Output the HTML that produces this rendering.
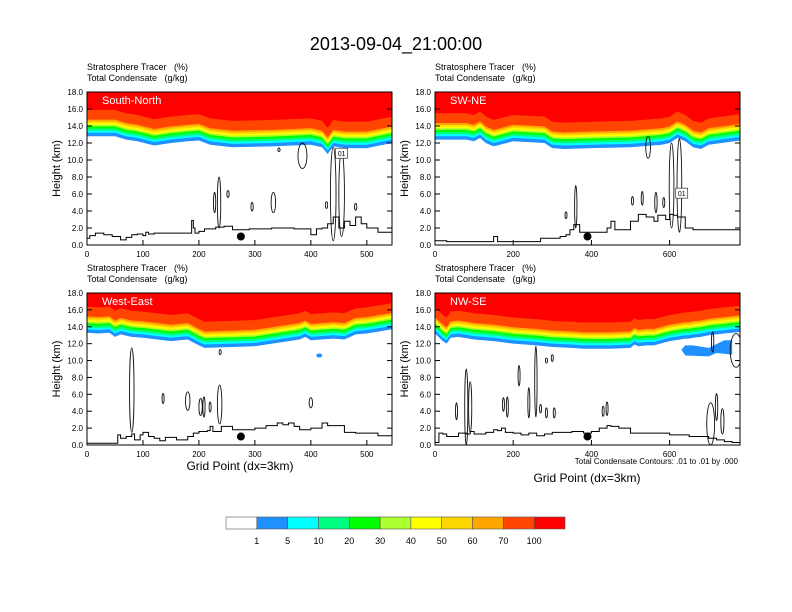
<!DOCTYPE html>
<html><head><meta charset="utf-8">
<style>
html,body{margin:0;padding:0;background:#fff;}
svg{display:block;font-family:"Liberation Sans",sans-serif;}
text{white-space:pre;}
</style></head>
<body>
<svg id="fig" width="792" height="612" viewBox="0 0 792 612">
<text x="396" y="50" font-size="18" text-anchor="middle">2013-09-04_21:00:00</text>
<g id="panels"></g>
<g id="cbar"></g>
</svg>
<script>
const colorLevels = ["1","5","10","20","30","40","50","60","70","100"];
const bandColors = ["#1e90ff","#00ffff","#00ff80","#00ff00","#adff2f","#ffff00","#ffd700","#ffa500","#ff4500","#ff0000"];
const bandOffsets = [0,0.4,0.65,0.9,1.15,1.35,1.55,1.75,1.95,3.1];

const p1Xmax = 545;
const p1BaseX = [0,50,70,90,120,150,180,200,220,260,330,400,420,430,440,460,500,530,545];
const p1Base = [12.8,12.8,12.4,12.2,11.7,12.0,12.2,12.3,11.8,11.5,11.6,11.8,11.5,10.7,11.6,11.4,11.4,11.8,12.0];
const p1TerX = [0,5,15,30,45,60,70,80,90,100,105,110,120,140,180,187,190,193,200,210,230,245,260,290,330,350,370,400,410,420,430,440,450,460,470,480,490,500,520,545];
const p1Ter = [0.8,1.1,1.4,1.2,1.0,0.6,0.9,1.2,1.3,1.1,1.5,1.3,1.4,1.4,1.4,2.9,2.0,1.4,1.6,1.9,2.1,2.2,1.8,1.9,2.0,2.0,1.9,1.2,1.9,2.0,2.5,3.3,2.0,2.8,2.3,3.3,2.5,2.0,1.5,1.9];
const p1Cont = [[228,5,2,1.2],[236,5,3,3],[252,6,2,0.4],[295,4.5,2,0.5],[333,5,4,1.2],[343,11.2,2,0.2],[385,10.5,8,1.5],[440,6,5,5.5],[455,6,5,5],[480,4.5,2,0.4],[428,4.7,2,0.4]];
const p1Dot = 275;

const p2Xmax = 780;
const p2BaseX = [0,80,100,115,130,150,200,280,300,330,400,500,580,600,620,640,660,680,700,780];
const p2Base = [12.4,12.4,12.2,12.6,12.0,11.6,12.2,12.0,11.4,11.3,11.4,11.5,11.8,12.0,12.6,12.2,11.5,11.3,11.8,12.3];
const p2TerX = [0,30,140,150,160,250,270,300,320,335,345,355,370,400,440,450,460,500,520,540,560,570,580,590,600,610,620,640,660,700,780];
const p2Ter = [0.5,0.4,0.4,1.0,0.4,0.4,0.8,0.8,1.0,1.2,1.8,2.4,1.5,1.5,2.0,2.8,1.8,2.8,3.6,3.3,2.8,3.5,3.5,3.0,3.6,3.5,3.3,2.0,1.8,1.8,1.2];
const p2Cont = [[360,4.5,3,2.5],[335,3.5,1,0.4],[505,5.2,2,0.5],[530,5.5,2,0.8],[565,5,3,1.2],[585,5,2,0.6],[605,7,6,5],[625,7,6,5.5],[545,11.5,6,1.3]];
const p2Dot = 390;

const p3Xmax = 545;
const p3BaseX = [0,20,40,50,60,80,100,150,180,200,210,260,300,350,380,390,400,440,460,480,500,545];
const p3Base = [13.3,13.2,13.3,12.8,13.1,12.8,12.7,12.3,12.5,11.8,11.5,11.6,11.7,12.2,12.5,12.8,12.4,12.6,12.5,13.1,13.2,13.7];
const p3TerX = [0,50,55,60,70,80,85,95,100,110,120,130,140,160,180,190,200,215,220,225,240,260,280,300,320,340,350,360,370,380,400,420,430,460,480,520,545];
const p3Ter = [0.2,0.2,1.2,0.8,1.0,1.3,0.6,1.2,1.5,1.0,0.8,0.5,0.9,0.6,1.0,1.4,1.6,1.7,2.2,1.6,2.2,1.8,1.8,2.0,2.3,2.6,2.4,2.6,2.2,1.8,2.0,2.6,2.3,1.5,1.4,1.1,0.8];
const p3Cont = [[80,6.5,4,5],[136,5.5,1.5,0.6],[180,5.2,4,1.1],[203,4.5,3,1],[209,4.5,2,1.2],[220,4.5,1.5,0.6],[237,4.8,4,2.3],[400,5,3,0.6],[238,11,1,0.3]];
const p3Dot = 275;

const p4Xmax = 780;
const p4BaseX = [0,20,30,40,60,100,150,200,260,300,350,380,400,450,500,510,520,540,560,600,640,650,660,680,700,720,740,760,780];
const p4Base = [13.2,12.3,12.0,12.7,12.8,12.5,12.3,12.0,11.8,11.6,11.5,11.4,11.4,11.4,11.5,11.9,11.7,11.8,11.8,12.3,12.6,12.6,12.7,12.8,13.0,13.1,13.2,13.3,13.4];
const p4TerX = [0,10,20,30,60,80,90,100,130,150,160,170,180,200,220,240,260,280,300,350,380,400,420,440,450,470,500,540,600,650,700,720,740,760,780];
const p4Ter = [0.3,1.4,1.3,1.0,1.4,1.3,1.6,1.3,1.5,1.8,1.7,2.0,1.5,1.4,1.2,1.4,1.1,1.3,1.5,1.6,1.4,1.6,2.0,2.3,2.2,2.0,1.4,1.4,1.2,1.0,0.8,0.6,0.4,0.3,0.2];
const p4Cont = [[80,4.5,4,4.5],[90,4.5,4,3],[55,4,2,1],[175,4.8,2,0.8],[185,4.5,2,1.2],[215,8.2,2,1.2],[240,5,2,1.8],[258,7.5,3,4.2],[270,4.3,2,0.5],[285,10,1,0.3],[300,10.3,1,0.4],[285,3.8,2,0.6],[305,3.8,2,0.6],[430,4,2,0.6],[440,4.3,2,0.8],[705,2.5,10,2.5],[720,4.5,3,1.6],[735,2.8,4,1.5],[710,12.2,3,1.2],[770,11.2,15,2.0]];
const p4BlobX = [640,660,700,740,760,760,720,700,640,630];
const p4BlobY = [11.8,11.8,11.5,12.4,12.4,10.7,10.9,10.5,10.6,11.3];
const p4Dot = 390;

const NS="http://www.w3.org/2000/svg";
const root=document.getElementById('panels');
function el(tag,attrs,parent){const e=document.createElementNS(NS,tag);for(const k in attrs)e.setAttribute(k,attrs[k]);(parent||root).appendChild(e);return e;}

const panels=[
 {name:"South-North",slug:"south-north",x0:87,x1:392,y0:92,y1:245,xmax:p1Xmax,bx:p1BaseX,b:p1Base,tx:p1TerX,t:p1Ter,c:p1Cont,dot:p1Dot,step:100,label:[455,10.8]},
 {name:"SW-NE",slug:"sw-ne",x0:435,x1:740,y0:92,y1:245,xmax:p2Xmax,bx:p2BaseX,b:p2Base,tx:p2TerX,t:p2Ter,c:p2Cont,dot:p2Dot,step:200,label:[631,6.1]},
 {name:"West-East",slug:"west-east",x0:87,x1:392,y0:293,y1:445,xmax:p3Xmax,bx:p3BaseX,b:p3Base,tx:p3TerX,t:p3Ter,c:p3Cont,dot:p3Dot,step:100,blue:[415,10.6]},
 {name:"NW-SE",slug:"nw-se",x0:435,x1:740,y0:293,y1:445,xmax:p4Xmax,bx:p4BaseX,b:p4Base,tx:p4TerX,t:p4Ter,c:p4Cont,dot:p4Dot,step:200,blobX:p4BlobX,blobY:p4BlobY}
];

panels.forEach(p=>{
 const g=el('g',{});
 
 
 const X=v=>p.x0+(v/p.xmax)*(p.x1-p.x0);
 const Y=v=>p.y1-(v/18)*(p.y1-p.y0);
 const cid='clip-'+p.slug;
 const cp=el('clipPath',{id:cid},g);el('rect',{x:p.x0,y:p.y0,width:p.x1-p.x0,height:p.y1-p.y0},cp);
 const hdr1=el('text',{x:p.x0,y:p.y0-22,'font-size':9},g);hdr1.textContent="Stratosphere Tracer   (%)";
 
 const hdr2=el('text',{x:p.x0,y:p.y0-11,'font-size':9},g);hdr2.textContent="Total Condensate   (g/kg)";
 
 const fill=el('g',{'clip-path':'url(#'+cid+')'},g);
 
 bandColors.forEach((col,i)=>{
   let pts=p.bx.map((x,j)=>X(x)+','+Y(p.b[j]+bandOffsets[i]));
   pts.push(X(p.xmax)+','+(p.y0-2));pts.push(X(0)+','+(p.y0-2));
   const poly=el('polygon',{points:pts.join(' '),fill:col},fill);
   
   
 });
 if(p.blobX){const b=el('polygon',{points:p.blobX.map((x,j)=>X(x)+','+Y(p.blobY[j])).join(' '),fill:bandColors[0]},fill);
   }
 if(p.blue){const b=el('ellipse',{cx:X(p.blue[0]),cy:Y(p.blue[1]),rx:3,ry:2,fill:bandColors[0]},fill);
   }
 const lab=el('text',{x:p.x0+15,y:p.y0+12,'font-size':11,fill:'#fff'},g);lab.textContent=p.name;
 
 const cg=el('g',{'clip-path':'url(#'+cid+')',fill:'none',stroke:'#111','stroke-width':0.9},g);
 p.c.forEach(c=>{const e=el('ellipse',{cx:X(c[0]),cy:Y(c[1]),rx:Math.max(1,X(c[2])-X(0)),ry:Math.abs(Y(0)-Y(c[3]))},cg);
   });
 if(p.label){const r=el('rect',{x:X(p.label[0])-6,y:Y(p.label[1])-5,width:12,height:10,fill:'#fff',stroke:'#111','stroke-width':0.6},g);
   
   const t=el('text',{x:X(p.label[0]),y:Y(p.label[1])+3,'font-size':7,'text-anchor':'middle'},g);t.textContent='01';
   }
 let d='';p.tx.forEach((x,j)=>{d+=(j?'L':'M')+X(x)+','+Y(p.t[j]);if(j<p.tx.length-1)d+='L'+X(p.tx[j+1])+','+Y(p.t[j]);});
 const ter=el('path',{d:d,fill:'none',stroke:'#000','stroke-width':1},g);
 
 const dot=el('circle',{cx:X(p.dot),cy:Y(1.0),r:4,fill:'#000'},g);
 
 const fr=el('rect',{x:p.x0,y:p.y0,width:p.x1-p.x0,height:p.y1-p.y0,fill:'none',stroke:'#000','stroke-width':1},g);
 
 for(let v=0;v<=18;v+=2){
   el('line',{x1:p.x0,x2:p.x0+5,y1:Y(v),y2:Y(v),stroke:'#000'},g);
   el('line',{x1:p.x1,x2:p.x1-5,y1:Y(v),y2:Y(v),stroke:'#000'},g);
   const t=el('text',{x:p.x0-4,y:Y(v)+3,'font-size':8,'text-anchor':'end'},g);t.textContent=v.toFixed(1);
   
 }
 for(let v=0;v<=p.xmax;v+=p.step){
   el('line',{x1:X(v),x2:X(v),y1:p.y1,y2:p.y1-5,stroke:'#000'},g);
   const t=el('text',{x:X(v),y:p.y1+12,'font-size':8,'text-anchor':'middle'},g);t.textContent=v;
   
 }
 const yl=el('text',{x:0,y:0,'font-size':11,'text-anchor':'middle',transform:'translate('+(p.x0-27)+','+((p.y0+p.y1)/2)+') rotate(-90)'},g);
 yl.textContent='Height (km)';
});
function txt(x,y,s,size,anchor,name){const t=el('text',{x:x,y:y,'font-size':size,'text-anchor':anchor});t.textContent=s;
 }
txt(240,470,'Grid Point (dx=3km)',12,'middle','x-axis-title');
txt(587,482,'Grid Point (dx=3km)',12,'middle','x-axis-title');
txt(738,464,'Total Condensate Contours: .01 to .01 by .000',8,'end','contour-info');

const cb=document.getElementById('cbar');
const cbColors=["#ffffff"].concat(bandColors);
const cx0=226,cw=(565-226)/11;
cbColors.forEach((c,i)=>{const r=el('rect',{x:cx0+i*cw,y:517,width:cw,height:12,fill:c,stroke:'#555','stroke-width':0.6},cb);
 });
colorLevels.forEach((l,i)=>{const t=el('text',{x:cx0+(i+1)*cw,y:544,'font-size':9,'text-anchor':'middle'},cb);t.textContent=l;
 });
</script>
</body></html>
